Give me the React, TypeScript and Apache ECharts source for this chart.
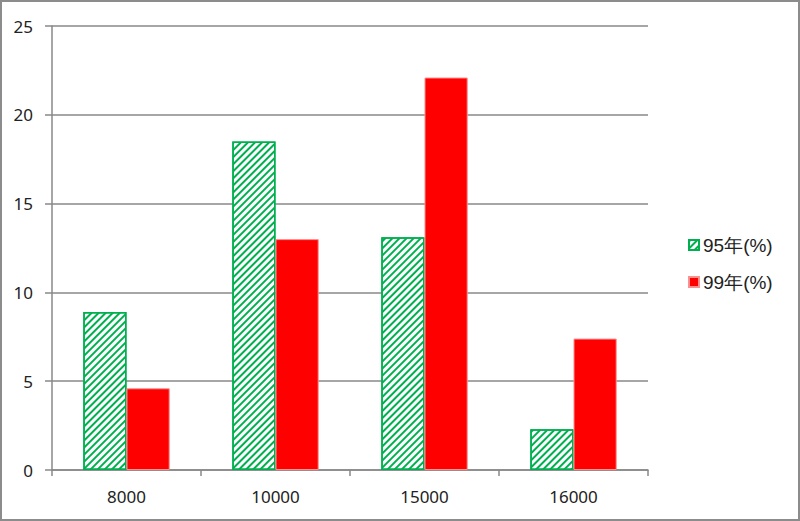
import React, { useEffect, useRef } from "react";
import * as echarts from "echarts";

const categories = ["8000", "10000", "15000", "16000"];
const series95 = [8.9, 18.5, 13.1, 2.3];
const series99 = [4.6, 13.0, 22.1, 7.4];
const seriesNames = ["95年(%)", "99年(%)"];

export default function App() {
  const ref = useRef<HTMLDivElement>(null);
  useEffect(() => {
    if (!ref.current) return;
    const chart = echarts.init(ref.current, undefined, { renderer: "svg" });
    chart.setOption({
      animation: false,
      backgroundColor: "#ffffff",
      textStyle: { fontFamily: "Liberation Sans, Arial, sans-serif" },
      grid: { left: 52, right: 152, top: 26, bottom: 51 },
      legend: {
        orient: "vertical",
        left: 683,
        top: 230,
        icon: "rect",
        itemWidth: 10,
        itemHeight: 10,
        itemGap: 17,
        textStyle: { fontSize: 19, lineHeight: 20, color: "#222", fontFamily: "Liberation Sans, Arial, sans-serif", padding: [0, 0, 0, -1] },
        data: seriesNames,
      },
      xAxis: {
        type: "category",
        data: categories,
        axisLine: { lineStyle: { color: "#888", width: 1.5 } },
        axisTick: { show: true, length: 6, lineStyle: { color: "#888", width: 1.5 } },
        axisLabel: { fontSize: 17, color: "#222", margin: 18, fontFamily: "Noto Sans, sans-serif" },
      },
      yAxis: {
        type: "value",
        min: 0,
        max: 25,
        interval: 5,
        axisLine: { show: true, lineStyle: { color: "#888", width: 1.5 } },
        axisTick: { show: true, length: 7, lineStyle: { color: "#888", width: 1.5 } },
        splitLine: { lineStyle: { color: "#888", width: 1.5 } },
        axisLabel: { fontSize: 17, color: "#222", margin: 19, fontFamily: "Noto Sans, sans-serif" },
      },
      graphic: [
        {
          type: "rect",
          silent: true,
          shape: { x: 1, y: 1, width: 798, height: 519 },
          style: { fill: "none", stroke: "#8c8c8c", lineWidth: 2 },
        },
      ],
      series: [
        {
          name: seriesNames[0],
          type: "bar",
          data: series95,
          barGap: "0%",
          barCategoryGap: "42%",
          itemStyle: {
            color: "#ffffff",
            borderColor: "#00b050",
            borderWidth: 1.5,
            decal: {
              symbol: "rect",
              color: "#00b050",
              dashArrayX: [1, 0],
              dashArrayY: [2, 3],
              rotation: -Math.PI / 4,
              symbolSize: 1,
            },
          },
        },
        {
          name: seriesNames[1],
          type: "bar",
          data: series99,
          itemStyle: { color: "#ff0000", borderColor: "#ff9090", borderWidth: 1 },
        },
      ],
    });
    return () => chart.dispose();
  }, []);
  return (
    <div
      ref={ref}
      style={{ position: "fixed", left: 0, top: 0, width: 800, height: 521 }}
    />
  );
}
